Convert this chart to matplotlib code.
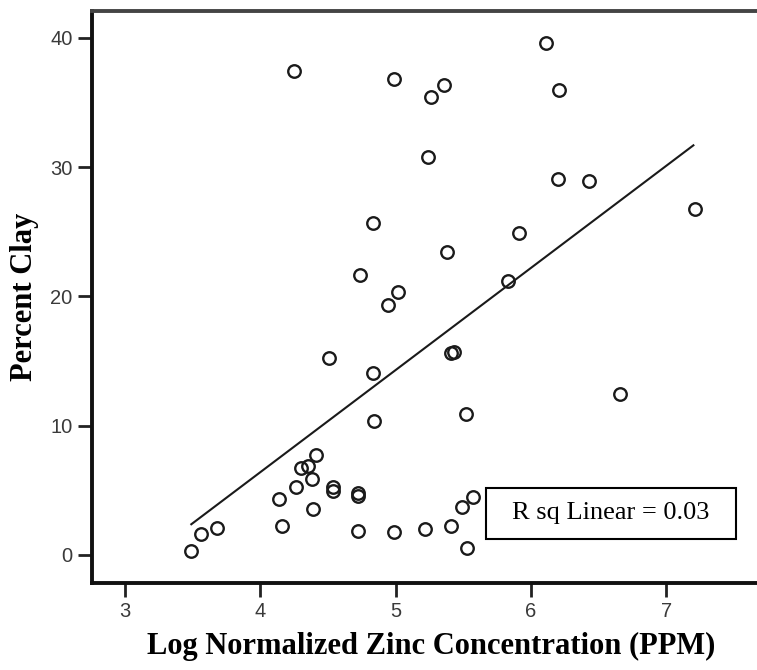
import matplotlib
matplotlib.use('Agg')
import numpy as np
import matplotlib.pyplot as plt
from matplotlib.patches import Rectangle

# log normalized zinc (x) and percent clay (y)
zinc = [3.49, 3.56, 3.68, 4.14, 4.16, 4.26, 4.30, 4.35, 4.38, 4.41, 4.39,
        4.535, 4.535, 4.72, 4.72, 4.72, 4.51, 4.83, 4.84, 5.41, 5.43, 6.66,
        5.52, 5.57, 5.49, 5.41, 5.22, 4.99, 5.53, 4.25, 4.83, 4.74, 4.99,
        5.26, 5.36, 6.11, 6.21, 5.24, 6.20, 6.43, 7.21, 5.91, 5.38, 5.83,
        4.94, 5.02]
clay = [0.33, 1.65, 2.06, 4.33, 2.24, 5.26, 6.76, 6.84, 5.85, 7.73, 3.53,
        5.28, 4.95, 4.82, 4.59, 1.86, 15.21, 14.1, 10.36, 15.6, 15.7, 12.43,
        10.93, 4.51, 3.74, 2.27, 1.99, 1.75, 0.57, 37.46, 25.7, 21.63, 36.79,
        35.45, 36.38, 39.57, 35.96, 30.80, 29.08, 28.9, 26.74, 24.93, 23.41, 21.21,
        19.33, 20.32]

# fit line as drawn in the chart
fit_slope = 7.90
fit_icept = -25.2
r_sq_text = 'R sq Linear = 0.03'

xticks = [3, 4, 5, 6, 7]
yticks = [0, 10, 20, 30, 40]

fig = plt.figure(figsize=(7.57, 6.70), dpi=100)
ax = fig.add_axes([0.1215, 0.1299, 0.8785, 0.8537])

ax.plot(zinc, clay, linestyle='none', marker='o', markersize=9,
        markerfacecolor='none', markeredgecolor='#1a1a1a', markeredgewidth=1.7)

xs = np.array([min(zinc), max(zinc) - 0.01])
ax.plot(xs, fit_icept + fit_slope * xs, color='#1a1a1a', linewidth=1.5)

ax.set_xlim(2.756, 7.67)
ax.set_ylim(-2.17, 42.07)
ax.set_xticks(xticks)
ax.set_yticks(yticks)
ax.tick_params(direction='out', length=10, width=2, color='#222222',
               labelsize=14.5, labelcolor='#3a3a3a', pad=4)
for lab in ax.get_xticklabels() + ax.get_yticklabels():
    lab.set_family('Liberation Sans')

for side in ['left', 'bottom', 'top']:
    ax.spines[side].set_linewidth(2.8)
    ax.spines[side].set_color('#111111')
ax.spines['top'].set_color('#444444')
ax.spines['right'].set_visible(False)

ax.set_xlabel('Log Normalized Zinc Concentration (PPM)', family='Liberation Serif',
              fontweight='bold', fontsize=22, labelpad=6)
ax.xaxis.set_label_coords(0.51, -0.085)
ax.set_ylabel('Percent Clay', family='Liberation Serif', fontweight='bold',
              fontsize=22, labelpad=8)

# R sq box
ax.add_patch(Rectangle((0.5925, 0.0769), 0.3759, 0.0892, transform=ax.transAxes,
                       facecolor='white', edgecolor='black', linewidth=1.5, zorder=5))
ax.text(0.7805, 0.1215, r_sq_text, transform=ax.transAxes, family='Liberation Serif',
        fontsize=19, ha='center', va='center', zorder=6)

plt.savefig('out.png', dpi=100)
